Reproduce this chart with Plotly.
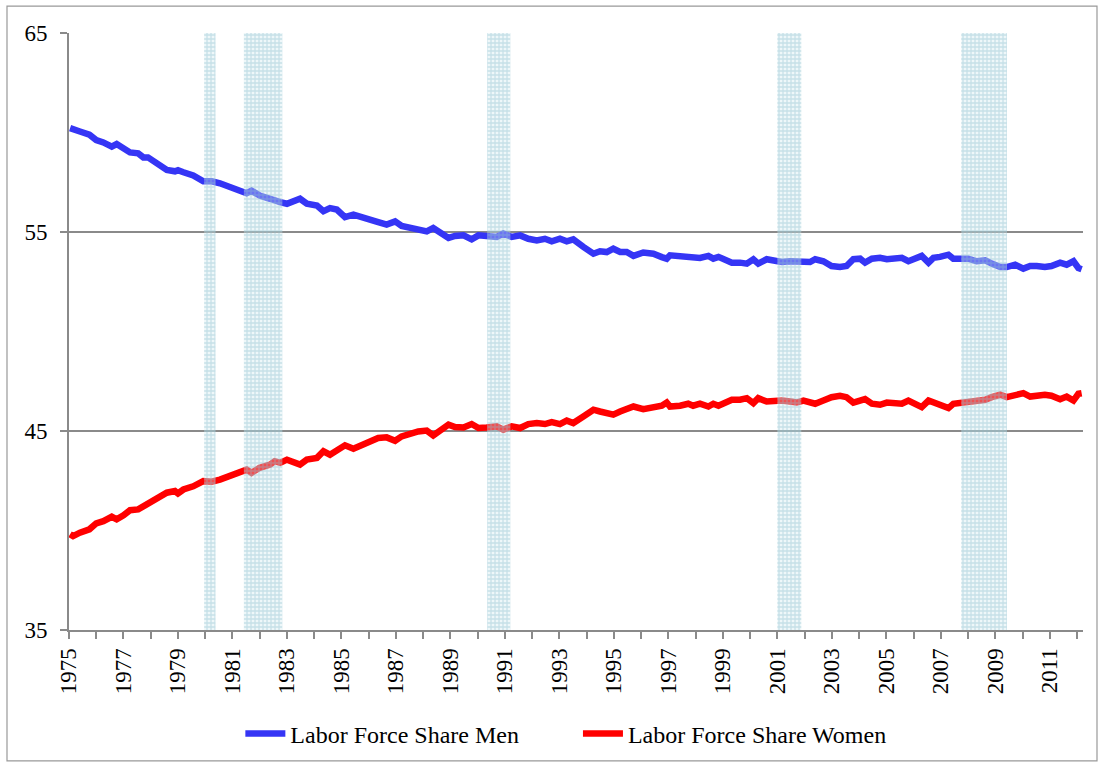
import plotly.graph_objects as go

# Decimal years of the readings
years = [1975.04, 1975.15, 1975.40, 1975.75, 1976.00, 1976.26, 1976.57, 1976.75, 1977.00, 1977.24,
         1977.54, 1977.73, 1977.90, 1978.20, 1978.59, 1978.89, 1979.00, 1979.20, 1979.56, 1979.93,
         1980.24, 1980.54, 1980.91, 1981.28, 1981.52, 1981.70, 1982.00, 1982.38, 1982.55, 1982.75,
         1983.00, 1983.48, 1983.73, 1984.10, 1984.34, 1984.58, 1984.83, 1985.13, 1985.44, 1985.75,
         1986.05, 1986.35, 1986.66, 1986.97, 1987.21, 1987.52, 1987.82, 1988.13, 1988.37, 1988.62,
         1988.93, 1989.17, 1989.48, 1989.78, 1990.03, 1990.33, 1990.70, 1990.94, 1991.25, 1991.56,
         1991.86, 1992.17, 1992.47, 1992.72, 1993.02, 1993.27, 1993.51, 1993.88, 1994.25, 1994.49,
         1994.74, 1994.98, 1995.23, 1995.47, 1995.72, 1996.08, 1996.45, 1996.76, 1996.94, 1997.06,
         1997.43, 1997.73, 1997.91, 1998.16, 1998.47, 1998.65, 1998.84, 1999.14, 1999.33, 1999.63,
         1999.88, 2000.12, 2000.30, 2000.61, 2000.86, 2001.16, 2001.47, 2001.71, 2001.96, 2002.20,
         2002.39, 2002.69, 2002.99, 2003.30, 2003.54, 2003.79, 2004.04, 2004.22, 2004.47, 2004.77,
         2005.02, 2005.26, 2005.57, 2005.81, 2006.06, 2006.30, 2006.55, 2006.73, 2006.97, 2007.28,
         2007.46, 2007.77, 2008.01, 2008.32, 2008.63, 2008.87, 2009.18, 2009.42, 2009.73, 2010.03,
         2010.28, 2010.52, 2010.82, 2011.06, 2011.38, 2011.62, 2011.87, 2012.05, 2012.17]

share_men = [60.22, 60.15, 60.05, 59.89, 59.62, 59.50, 59.29, 59.42, 59.25, 59.00,
             58.95, 58.75, 58.75, 58.45, 58.12, 58.05, 58.10, 58.00, 57.84, 57.55,
             57.55, 57.45, 57.25, 57.05, 56.95, 57.08, 56.83, 56.67, 56.55, 56.50,
             56.42, 56.67, 56.42, 56.33, 56.05, 56.20, 56.13, 55.75, 55.87, 55.75,
             55.70, 55.50, 55.37, 55.53, 55.30, 55.20, 55.07, 55.03, 55.20, 55.00,
             54.70, 54.80, 54.83, 54.63, 54.83, 54.80, 54.75, 54.92, 54.75, 54.83,
             54.66, 54.58, 54.66, 54.53, 54.66, 54.53, 54.63, 54.25, 53.91, 54.03,
             53.99, 54.16, 54.00, 54.00, 53.80, 53.97, 53.91, 53.74, 53.66, 53.83,
             53.80, 53.70, 53.75, 53.70, 53.80, 53.66, 53.75, 53.58, 53.46, 53.46,
             53.41, 53.63, 53.41, 53.63, 53.53, 53.49, 53.53, 53.49, 53.46, 53.49,
             53.63, 53.53, 53.29, 53.24, 53.29, 53.63, 53.66, 53.46, 53.66, 53.70,
             53.63, 53.66, 53.70, 53.53, 53.66, 53.80, 53.46, 53.70, 53.75, 53.86,
             53.66, 53.63, 53.66, 53.53, 53.58, 53.41, 53.24, 53.24, 53.36, 53.16,
             53.29, 53.29, 53.24, 53.29, 53.46, 53.36, 53.53, 53.19, 53.13]

share_women = [39.81, 39.72, 39.89, 40.06, 40.36, 40.47, 40.69, 40.56, 40.76, 41.02,
               41.06, 41.22, 41.31, 41.59, 41.90, 41.98, 41.86, 42.06, 42.22, 42.48,
               42.45, 42.56, 42.76, 42.98, 43.06, 42.90, 43.15, 43.31, 43.48, 43.40,
               43.56, 43.31, 43.56, 43.65, 43.98, 43.81, 44.01, 44.28, 44.11, 44.31,
               44.45, 44.65, 44.68, 44.51, 44.73, 44.90, 44.98, 45.02, 44.78, 45.02,
               45.32, 45.20, 45.18, 45.35, 45.15, 45.18, 45.23, 45.07, 45.23, 45.15,
               45.35, 45.40, 45.35, 45.45, 45.35, 45.52, 45.40, 45.73, 46.07, 45.98,
               45.93, 45.82, 45.98, 46.07, 46.23, 46.10, 46.15, 46.27, 46.43, 46.23,
               46.27, 46.37, 46.27, 46.37, 46.23, 46.37, 46.27, 46.48, 46.57, 46.57,
               46.65, 46.40, 46.65, 46.48, 46.53, 46.53, 46.48, 46.43, 46.53, 46.48,
               46.37, 46.53, 46.70, 46.77, 46.70, 46.43, 46.53, 46.60, 46.37, 46.32,
               46.43, 46.40, 46.37, 46.53, 46.40, 46.20, 46.53, 46.43, 46.37, 46.15,
               46.37, 46.43, 46.40, 46.48, 46.57, 46.70, 46.82, 46.70, 46.77, 46.90,
               46.73, 46.77, 46.82, 46.77, 46.60, 46.73, 46.53, 46.87, 46.90]

# Recession periods (decimal years)
recession_start = [1979.96, 1981.42, 1990.35, 2001.00, 2007.75]
recession_end = [1980.38, 1982.83, 1991.20, 2001.88, 2009.43]

tick_years = list(range(1975, 2013))
tick_labels = [str(y) if (y - 1975) % 2 == 0 else "" for y in tick_years]
y_ticks = [35, 45, 55, 65]

FONT = "Liberation Serif, Times New Roman, serif"
GRAY = "#8a8a8a"
NB = "\u00a0"

fig = go.Figure()

fig.add_trace(go.Scatter(x=years, y=share_men, mode="lines",
                         name="Labor Force Share Men" + NB * 9,
                         line=dict(color="#3535f5", width=6.5)))
fig.add_trace(go.Scatter(x=years, y=share_women, mode="lines", name="Labor Force Share Women",
                         line=dict(color="#ff0000", width=6.5)))

y_lo, y_hi = y_ticks[0], y_ticks[-1]
for s, e in zip(recession_start, recession_end):
    fig.add_trace(go.Scatter(
        x=[s, e, e, s, s], y=[y_lo, y_lo, y_hi, y_hi, y_lo],
        mode="none", fill="toself", showlegend=False, hoverinfo="skip",
        fillcolor="rgba(190,220,230,0.3)",
        fillpattern=dict(shape="+", size=4, solidity=0.55,
                         fgcolor="rgba(140,190,206,0.8)", bgcolor="rgba(205,230,238,0.35)"),
    ))

fig.update_layout(
    width=1104, height=767,
    margin=dict(l=69, r=21, t=33, b=136),
    paper_bgcolor="white", plot_bgcolor="white",
    font=dict(family=FONT, size=22, color="black"),
    showlegend=True,
    legend=dict(orientation="h", xanchor="center", x=0.49, yanchor="middle", y=-0.172,
                font=dict(family=FONT, size=24), itemwidth=40, tracegroupgap=0),
    xaxis=dict(range=[1975, 2012.22], tickmode="array", tickvals=tick_years, ticktext=tick_labels,
               tickangle=-90, ticks="outside", ticklen=7, tickcolor=GRAY, tickwidth=1.5,
               showline=True, linecolor=GRAY, linewidth=2, showgrid=False, zeroline=False,
               tickfont=dict(family=FONT, size=23)),
    yaxis=dict(range=[35, 65], tickmode="array", tickvals=y_ticks, ticks="outside", ticklen=7,
               tickcolor=GRAY, tickwidth=1.5, showline=True, linecolor=GRAY, linewidth=2,
               showgrid=True, gridcolor=GRAY, gridwidth=1.5, zeroline=False,
               ticklabelstandoff=8, tickfont=dict(family=FONT, size=23)),
    shapes=[dict(type="rect", xref="paper", yref="paper",
                 x0=(7 - 69) / 1014, x1=(1097 - 69) / 1014,
                 y0=(631 - 762) / 598, y1=(631 - 6) / 598,
                 line=dict(color="#999999", width=1.2), fillcolor="rgba(0,0,0,0)", layer="below")],
)

fig.write_html("out.html", config={"displayModeBar": False},
               post_script="document.body.style.margin='0';document.body.style.overflow='hidden';")
